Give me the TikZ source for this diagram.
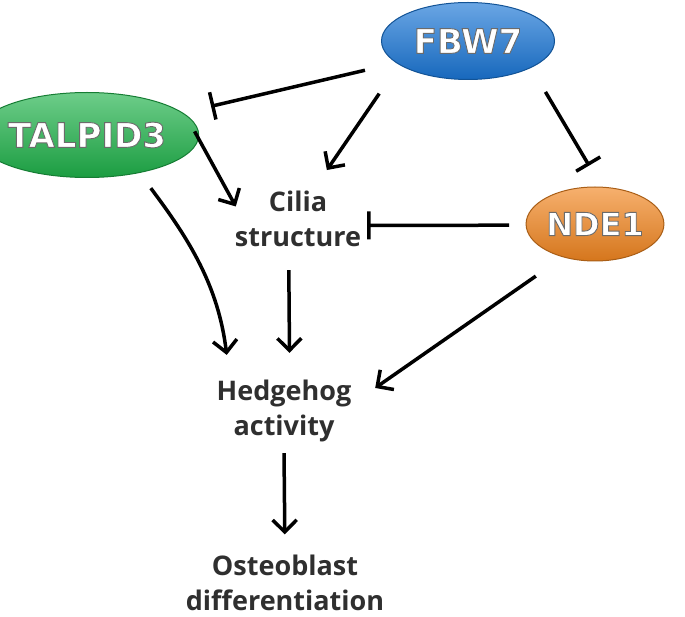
\documentclass[tikz,border=0pt]{standalone}
\usepackage{fontspec}
\setmainfont{Open Sans}
\newfontfamily\ellfont{DejaVu Sans}
\usetikzlibrary{arrows.meta,shapes.geometric}
\definecolor{txtc}{HTML}{2F2F2F}
\definecolor{fbwc}{HTML}{1A76D6}
\definecolor{talc}{HTML}{1FB24A}
\definecolor{ndec}{HTML}{F28620}
\newcommand{\outltxt}[1]{\special{pdf:code q 2 Tr 0.9 w 0.42 0.42 0.42 RG}#1\special{pdf:code Q}}
\begin{document}
\begin{tikzpicture}[x=1pt,y=-1pt,
  ell/.style={ellipse, inner sep=0pt, draw=#1!70!black, line width=1pt,
    top color=#1!65!white, middle color=#1, bottom color=#1!88!black, text=white,
    font=\ellfont\bfseries\fontsize{34}{38}\selectfont},
  lab/.style={align=center, inner sep=0pt, text=txtc,
    font=\bfseries\fontsize{27}{35}\selectfont},
  act/.style={line width=3.5pt, -{Straight Barb[length=12pt,width=24pt]}},
  inh/.style={line width=3.5pt, -{Bar[width=28pt]}}
]
\useasboundingbox (0,0) rectangle (685,617);
\fill[white] (0,0) rectangle (685,617);

\node[ell=fbwc, minimum width=173pt, minimum height=77pt] (fbw7) at (468,41) {\outltxt{FBW7}};
\node[ell=talc, minimum width=167pt, minimum height=85pt] (talpid) at (87,135) {\outltxt{TALPID3}};
\node[ell=ndec, minimum width=127pt, minimum height=74pt, font=\ellfont\bfseries\fontsize{32}{36}\selectfont] (nde1) at (595,224) {\outltxt{NDE1}};

\node[lab, minimum width=130pt, minimum height=80pt] (cilia) at (298,218.5) {Cilia\\structure};
\node[lab, minimum width=150pt, minimum height=80pt] (hh) at (284,411) {Hedgehog\\activity};
\node[lab, minimum width=200pt, minimum height=54pt] (ost) at (285,583) {Osteoblast\\differentiation};

% FBW7 -| TALPID3
\draw[inh, shorten <=32pt, shorten >=28.7pt] (fbw7.197) -- (talpid.13.9);
% FBW7 -> Cilia
\draw[act, shorten <=35pt, shorten >=10pt] (fbw7.199.3) -- (cilia.60.1);
% FBW7 -| NDE1
\draw[inh, shorten <=28pt, shorten >=24.5pt] (fbw7.337.2) -- (nde1.80);
% TALPID3 -> Cilia
\draw[act, shorten <=19.7pt, shorten >=-6.2pt] (talpid.12.1) -- (cilia.165.3);
% NDE1 -| Cilia
\draw[inh, shorten <=16.5pt, shorten >=4pt] (nde1.181) -- (cilia.354.3);
% TALPID3 -> Hedgehog (curved)
\draw[act, shorten <=19pt, shorten >=16pt] (talpid.324.6) to[out=-53, in=97] (hh.144.2);
% Cilia -> Hedgehog
\draw[act, shorten <=11.5pt, shorten >=18pt] (cilia.257.3) -- (hh.82.9);
% NDE1 -> Hedgehog
\draw[act, shorten <=33pt, shorten >=19.5pt] (nde1.226.1) -- (hh.9.8);
% Hedgehog -> Osteoblast
\draw[act, shorten <=2pt, shorten >=20.5pt] (hh.south) -- (ost.north);
\end{tikzpicture}
\end{document}
